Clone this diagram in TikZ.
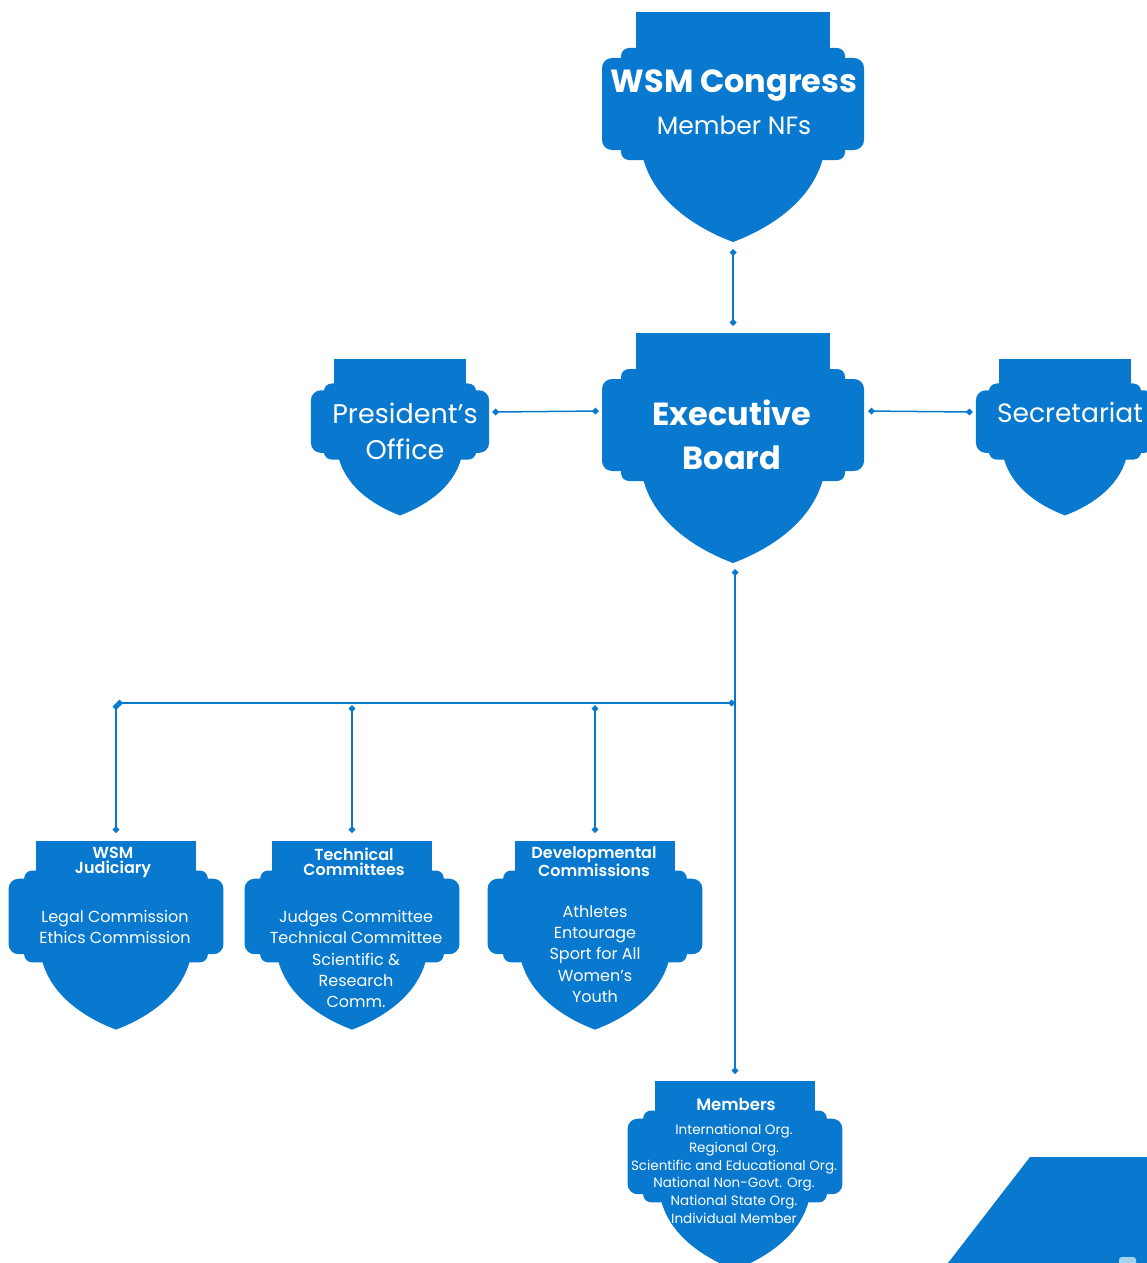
\documentclass[tikz,border=0pt]{standalone}
\usepackage{fontspec}
\setmainfont{Poppins}
\newfontfamily\semib{Poppins SemiBold}
\usetikzlibrary{arrows.meta}
\definecolor{wsm}{HTML}{0879CF}
\definecolor{wsmlight}{HTML}{A9D2EC}
\tikzset{
  conn/.style={draw=wsm, line width=1.5pt, {Diamond[length=7pt,width=7pt]}-{Diamond[length=7pt,width=7pt]}},
  txt/.style={text=white, align=center, inner sep=0pt},
  pics/shield/.style={code={
    \fill[wsm] (-97,0) rectangle (97,60);
    \fill[wsm, rounded corners=8pt] (-112,36) rectangle (112,148);
    \fill[wsm, rounded corners=10pt] (-131,46) rectangle (131,138);
    \fill[wsm] (-92,136) .. controls (-85,185) and (-40,215) .. (0,230)
               .. controls (40,215) and (85,185) .. (92,136) -- cycle;
    \coordinate (-top) at (0,0);
    \coordinate (-tip) at (0,230);
    \coordinate (-L) at (-131,78);
    \coordinate (-R) at (131,78);
  }},
}
\begin{document}
\begin{tikzpicture}[x=1pt, y=-1pt]
\clip (0,0) rectangle (1147,1263);
\fill[white] (0,0) rectangle (1147,1263);

% shields
\pic (congress) at (733,12) {shield};
\pic (exec) at (733,333) {shield};
\pic[scale=0.68] (pres) at (400,359) {shield};
\pic[scale=0.68] (sec) at (1065,359) {shield};
\pic[scale=0.82] (jud) at (116,841) {shield};
\pic[scale=0.82] (tech) at (352,841) {shield};
\pic[scale=0.82] (dev) at (595,841) {shield};
\pic[scale=0.82] (mem) at (735,1081) {shield};

% decorative corner
\fill[wsm] (1030,1157) -- (1147,1157) -- (1147,1263) -- (948,1263) -- cycle;
\fill[wsmlight, rounded corners=3pt] (1119,1257) rectangle (1136,1270);

% texts
\node[txt, font=\fontsize{32}{38}\selectfont\bfseries] (tcongress) at (734,86) {WSM Congress};
\node[txt, font=\fontsize{25}{30}\selectfont] (tmember) at (734,125) {Member NFs};
\node[txt, font=\fontsize{32}{44}\selectfont\bfseries] (texec) at (732,435) {Executive\\Board};
\node[txt, font=\fontsize{27}{36}\selectfont] (tpres) at (405,431) {President’s\\Office};
\node[txt, font=\fontsize{26.5}{36}\selectfont] (tsec) at (1070,413) {Secretariat};

\node[txt, font=\fontsize{16}{15}\selectfont\semib] (hjud) at (113,862) {WSM\\Judiciary};
\node[txt, font=\fontsize{16}{21}\selectfont] (bjud) at (115,927) {Legal Commission\\Ethics Commission};

\node[txt, font=\fontsize{16}{15}\selectfont\semib] (htech) at (354,862) {Technical\\Committees};
\node[txt, font=\fontsize{16}{21.3}\selectfont] (btech) at (356,959) {Judges Committee\\Technical Committee\\Scientific \&\\Research\\Comm.};

\node[txt, font=\fontsize{16}{15}\selectfont\semib] (hdev) at (594,862) {Developmental\\Commissions};
\node[txt, font=\fontsize{16}{21.3}\selectfont] (bdev) at (595,954) {Athletes\\Entourage\\Sport for All\\Women’s\\Youth};

\node[txt, font=\fontsize{16.5}{18}\selectfont\semib] (hmem) at (736,1104) {Members};
\node[txt, font=\fontsize{13.5}{17.8}\selectfont] (bmem) at (734,1174) {International Org.\\Regional Org.\\Scientific and Educational Org.\\National Non-Govt. Org.\\National State Org.\\Individual Member};

% connectors
\draw[conn, shorten <=7pt, shorten >=7pt] (congress-tip) -- (exec-top);
\draw[conn, shorten <=3pt, shorten >=3pt] (exec-L) -- (pres-R);
\draw[conn, shorten <=4pt, shorten >=3pt] (exec-R) -- (sec-L);
\draw[conn, shorten <=6pt, shorten >=7pt] (exec-tip -| mem-top) -- (mem-top);
\coordinate (junc) at (735,703);
\draw[conn] (junc) -- (jud-top |- junc);
\draw[conn, shorten >=8pt] (jud-top |- junc) -- (jud-top);
\draw[conn, shorten <=2pt, shorten >=8pt] (tech-top |- junc) -- (tech-top);
\draw[conn, shorten <=2pt, shorten >=8pt] (dev-top |- junc) -- (dev-top);
\end{tikzpicture}
\end{document}
